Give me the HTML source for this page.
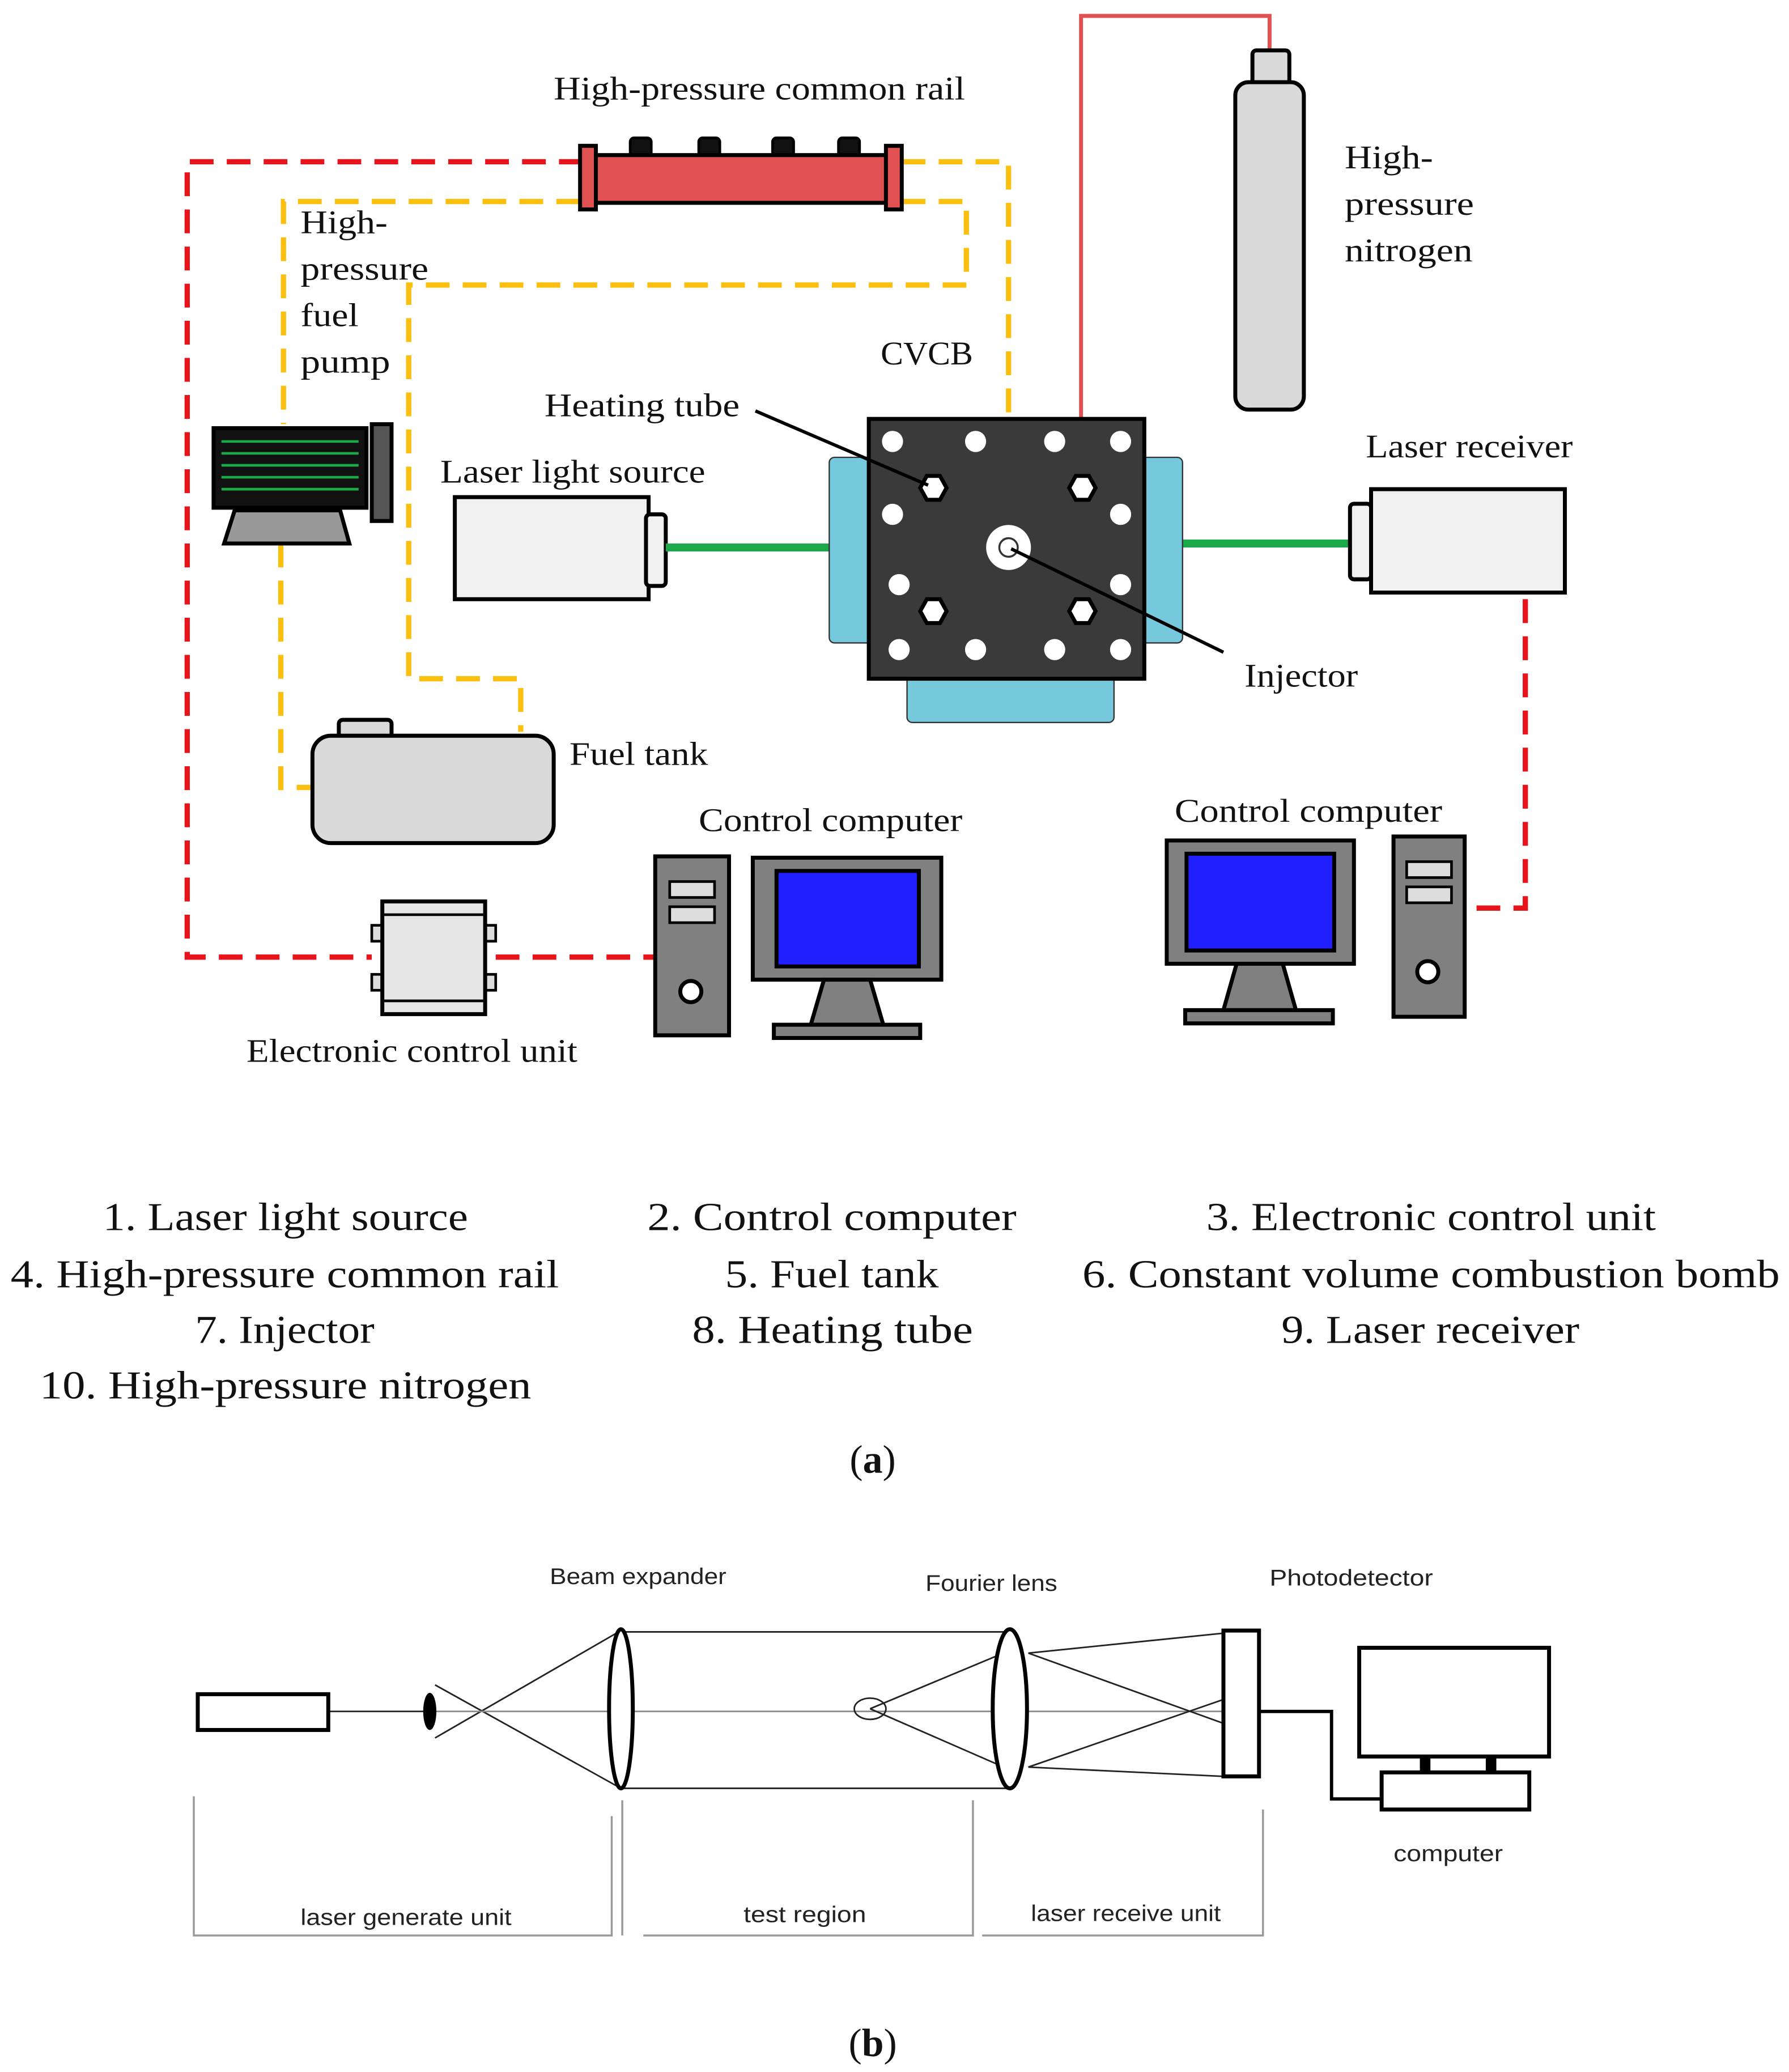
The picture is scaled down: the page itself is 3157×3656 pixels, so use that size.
<!DOCTYPE html>
<html><head><meta charset="utf-8"><style>
html,body{margin:0;padding:0;background:#fff}
svg{display:block}
.s{font-family:"Liberation Serif",serif;fill:#111}
.ss{font-family:"Liberation Sans",sans-serif;fill:#222}
</style></head><body>
<svg width="3157" height="3656" viewBox="0 0 1357 1563" preserveAspectRatio="none" xmlns="http://www.w3.org/2000/svg">
<rect width="1357" height="1563" fill="#fff"/>
<g fill="none" stroke="#e8141b" stroke-width="4" stroke-dasharray="18,10">
<polyline points="442,122 142,122 142,722 282,722"/>
<polyline points="376,722 496,722"/>
<polyline points="1157,452 1157,685 1112,685"/>
</g>
<g fill="none" stroke="#fbbf0f" stroke-width="4" stroke-dasharray="18,10">
<polyline points="684,122 765,122 765,405"/>
<polyline points="684,152 733,152 733,215 310,215 310,512 395,512 395,552"/>
<polyline points="440,152 215,152 215,320"/>
<polyline points="213,410 213,594 237,594"/>
</g>
<polyline points="820,316 820,12 963,12 963,40" fill="none" stroke="#e05252" stroke-width="3"/>
<g stroke="#000" stroke-width="2">
<rect x="478" y="104" width="16" height="14" rx="3" fill="#111"/>
<rect x="530" y="104" width="16" height="14" rx="3" fill="#111"/>
<rect x="586" y="104" width="16" height="14" rx="3" fill="#111"/>
<rect x="636" y="104" width="16" height="14" rx="3" fill="#111"/>
<rect x="447" y="117" width="228" height="36" fill="#e05252" stroke-width="3"/>
<rect x="440" y="110" width="12" height="48" fill="#e05252" stroke-width="3"/>
<rect x="672" y="110" width="12" height="48" fill="#e05252" stroke-width="3"/>
</g>
<g class="s" font-size="25" lengthAdjust="spacingAndGlyphs">
<text x="420" y="75" textLength="312" lengthAdjust="spacingAndGlyphs">High-pressure common rail</text>
<text x="1020" y="127" textLength="67" lengthAdjust="spacingAndGlyphs">High-</text>
<text x="1020" y="162" textLength="98" lengthAdjust="spacingAndGlyphs">pressure</text>
<text x="1020" y="197" textLength="97" lengthAdjust="spacingAndGlyphs">nitrogen</text>
<text x="228" y="176" textLength="66" lengthAdjust="spacingAndGlyphs">High-</text>
<text x="228" y="211" textLength="97" lengthAdjust="spacingAndGlyphs">pressure</text>
<text x="228" y="246" textLength="44" lengthAdjust="spacingAndGlyphs">fuel</text>
<text x="228" y="281" textLength="68" lengthAdjust="spacingAndGlyphs">pump</text>
<text x="334" y="364" textLength="201" lengthAdjust="spacingAndGlyphs">Laser light source</text>
<text x="668" y="275" textLength="70" lengthAdjust="spacingAndGlyphs">CVCB</text>
<text x="413" y="314" textLength="148" lengthAdjust="spacingAndGlyphs">Heating tube</text>
<text x="944" y="518" textLength="86" lengthAdjust="spacingAndGlyphs">Injector</text>
<text x="1036" y="345" textLength="157" lengthAdjust="spacingAndGlyphs">Laser receiver</text>
<text x="432" y="577" textLength="105" lengthAdjust="spacingAndGlyphs">Fuel tank</text>
<text x="187" y="801" textLength="251" lengthAdjust="spacingAndGlyphs">Electronic control unit</text>
<text x="530" y="627" textLength="200" lengthAdjust="spacingAndGlyphs">Control computer</text>
<text x="891" y="620" textLength="203" lengthAdjust="spacingAndGlyphs">Control computer</text>
</g>
<rect x="950" y="38" width="28" height="28" rx="3" fill="#d9d9d9" stroke="#000" stroke-width="3"/>
<rect x="937" y="62" width="52" height="247" rx="10" fill="#d9d9d9" stroke="#000" stroke-width="3"/>
<rect x="162" y="323" width="116" height="60" fill="#111" stroke="#000" stroke-width="3"/>
<g stroke="#1aa848" stroke-width="2">
<line x1="168" y1="333" x2="272" y2="333"/><line x1="168" y1="342" x2="272" y2="342"/>
<line x1="168" y1="351" x2="272" y2="351"/><line x1="168" y1="360" x2="272" y2="360"/>
<line x1="168" y1="369" x2="272" y2="369"/>
</g>
<rect x="282" y="320" width="15" height="73" fill="#555" stroke="#000" stroke-width="3"/>
<polygon points="178,385 258,385 265,410 170,410" fill="#999" stroke="#000" stroke-width="3"/>
<rect x="345" y="375" width="147" height="77" fill="#f0f0f0" stroke="#000" stroke-width="3"/>
<rect x="490" y="388" width="15" height="54" rx="3" fill="#f0f0f0" stroke="#000" stroke-width="3"/>
<line x1="505" y1="413" x2="630" y2="413" stroke="#1aa848" stroke-width="6"/>
<line x1="897" y1="410" x2="1025" y2="410" stroke="#1aa848" stroke-width="6"/>
<rect x="629" y="345" width="34" height="140" rx="4" fill="#76c9dc" stroke="#333" stroke-width="1"/>
<rect x="863" y="345" width="34" height="140" rx="4" fill="#76c9dc" stroke="#333" stroke-width="1"/>
<rect x="688" y="508" width="157" height="37" rx="4" fill="#76c9dc" stroke="#333" stroke-width="1"/>
<rect x="659" y="316" width="209" height="196" fill="#3a3a3a" stroke="#000" stroke-width="3"/>
<g fill="#fff">
<circle cx="677" cy="333" r="8"/><circle cx="740" cy="333" r="8"/><circle cx="800" cy="333" r="8"/><circle cx="850" cy="333" r="8"/>
<circle cx="677" cy="388" r="8"/><circle cx="850" cy="388" r="8"/>
<circle cx="682" cy="441" r="8"/><circle cx="850" cy="441" r="8"/>
<circle cx="682" cy="490" r="8"/><circle cx="740" cy="490" r="8"/><circle cx="800" cy="490" r="8"/><circle cx="850" cy="490" r="8"/>
<circle cx="765" cy="413" r="17"/>
</g>
<circle cx="765" cy="413" r="7" fill="#fff" stroke="#333" stroke-width="1.5"/>
<g fill="#fff" stroke="#000" stroke-width="3">
<polygon points="698,368 703,359 713,359 718,368 713,377 703,377"/>
<polygon points="811,368 816,359 826,359 831,368 826,377 816,377"/>
<polygon points="698,461 703,452 713,452 718,461 713,470 703,470"/>
<polygon points="811,461 816,452 826,452 831,461 826,470 816,470"/>
</g>
<line x1="573" y1="310" x2="704" y2="366" stroke="#000" stroke-width="2.5"/>
<line x1="767" y1="414" x2="928" y2="492" stroke="#000" stroke-width="2.5"/>
<rect x="1024" y="380" width="16" height="57" rx="3" fill="#f0f0f0" stroke="#000" stroke-width="3"/>
<rect x="1040" y="369" width="147" height="78" fill="#f0f0f0" stroke="#000" stroke-width="3"/>
<rect x="257" y="543" width="40" height="16" rx="3" fill="#d9d9d9" stroke="#000" stroke-width="3"/>
<rect x="237" y="555" width="183" height="81" rx="14" fill="#d9d9d9" stroke="#000" stroke-width="3"/>
<rect x="282" y="698" width="8" height="12" fill="#ddd" stroke="#000" stroke-width="2"/>
<rect x="282" y="735" width="8" height="12" fill="#ddd" stroke="#000" stroke-width="2"/>
<rect x="368" y="698" width="8" height="12" fill="#ddd" stroke="#000" stroke-width="2"/>
<rect x="368" y="735" width="8" height="12" fill="#ddd" stroke="#000" stroke-width="2"/>
<rect x="290" y="680" width="78" height="85" fill="#e6e6e6" stroke="#000" stroke-width="3"/>
<line x1="290" y1="690" x2="368" y2="690" stroke="#000" stroke-width="2"/>
<line x1="290" y1="755" x2="368" y2="755" stroke="#000" stroke-width="2"/>
<rect x="497" y="646" width="56" height="135" fill="#808080" stroke="#000" stroke-width="3"/>
<rect x="508" y="665" width="34" height="12" fill="#ddd" stroke="#000" stroke-width="2"/>
<rect x="508" y="684" width="34" height="12" fill="#ddd" stroke="#000" stroke-width="2"/>
<circle cx="524" cy="748" r="8" fill="#fff" stroke="#000" stroke-width="3"/>
<rect x="571" y="647" width="143" height="92" fill="#808080" stroke="#000" stroke-width="3"/>
<rect x="589" y="657" width="108" height="72" fill="#1f1fff" stroke="#000" stroke-width="3"/>
<polygon points="625,739 660,739 670,773 615,773" fill="#808080" stroke="#000" stroke-width="3"/>
<rect x="587" y="773" width="111" height="10" fill="#808080" stroke="#000" stroke-width="3"/>
<rect x="1057" y="631" width="54" height="136" fill="#808080" stroke="#000" stroke-width="3"/>
<rect x="1067" y="650" width="34" height="12" fill="#ddd" stroke="#000" stroke-width="2"/>
<rect x="1067" y="669" width="34" height="12" fill="#ddd" stroke="#000" stroke-width="2"/>
<circle cx="1083" cy="733" r="8" fill="#fff" stroke="#000" stroke-width="3"/>
<rect x="885" y="634" width="142" height="93" fill="#808080" stroke="#000" stroke-width="3"/>
<rect x="900" y="644" width="112" height="73" fill="#1f1fff" stroke="#000" stroke-width="3"/>
<polygon points="938,727 973,727 983,762 928,762" fill="#808080" stroke="#000" stroke-width="3"/>
<rect x="899" y="762" width="112" height="10" fill="#808080" stroke="#000" stroke-width="3"/>
<g class="s" font-size="30">
<text x="78" y="928" textLength="277" lengthAdjust="spacingAndGlyphs">1. Laser light source</text>
<text x="8" y="971" textLength="416" lengthAdjust="spacingAndGlyphs">4. High-pressure common rail</text>
<text x="148" y="1013" textLength="136" lengthAdjust="spacingAndGlyphs">7. Injector</text>
<text x="30" y="1055" textLength="373" lengthAdjust="spacingAndGlyphs">10. High-pressure nitrogen</text>
<text x="491" y="928" textLength="280" lengthAdjust="spacingAndGlyphs">2. Control computer</text>
<text x="550" y="971" textLength="162" lengthAdjust="spacingAndGlyphs">5. Fuel tank</text>
<text x="525" y="1013" textLength="213" lengthAdjust="spacingAndGlyphs">8. Heating tube</text>
<text x="915" y="928" textLength="341" lengthAdjust="spacingAndGlyphs">3. Electronic control unit</text>
<text x="821" y="971" textLength="529" lengthAdjust="spacingAndGlyphs">6. Constant volume combustion bomb</text>
<text x="972" y="1013" textLength="226" lengthAdjust="spacingAndGlyphs">9. Laser receiver</text>
<text x="662" y="1111" text-anchor="middle">(<tspan font-weight="bold">a</tspan>)</text>
<text x="662" y="1551" text-anchor="middle">(<tspan font-weight="bold">b</tspan>)</text>
</g>
<g fill="none" stroke="#222" stroke-width="1.2">
<line x1="249" y1="1291" x2="322" y2="1291"/>
<line x1="330" y1="1271" x2="471" y2="1349"/>
<line x1="330" y1="1311" x2="471" y2="1230"/>
<line x1="330" y1="1291" x2="928" y2="1291" stroke="#888"/>
<line x1="471" y1="1231" x2="766" y2="1231"/>
<line x1="471" y1="1349" x2="766" y2="1349"/>
<line x1="766" y1="1245" x2="660" y2="1289"/>
<line x1="766" y1="1335" x2="660" y2="1289"/>
<ellipse cx="660" cy="1289" rx="12" ry="8"/>
<line x1="780" y1="1247" x2="928" y2="1232"/>
<line x1="780" y1="1333" x2="928" y2="1340"/>
<line x1="780" y1="1247" x2="928" y2="1300"/>
<line x1="780" y1="1333" x2="928" y2="1282"/>
</g>
<rect x="150" y="1278" width="99" height="27" fill="#fff" stroke="#000" stroke-width="3"/>
<ellipse cx="326" cy="1291" rx="5" ry="14" fill="#000"/>
<ellipse cx="471" cy="1289" rx="9" ry="60" fill="#fff" stroke="#000" stroke-width="3"/>
<ellipse cx="766" cy="1289" rx="13" ry="60" fill="#fff" stroke="#000" stroke-width="3"/>
<rect x="928" y="1230" width="27" height="110" fill="#fff" stroke="#000" stroke-width="3"/>
<polyline points="955,1291 1010,1291 1010,1357 1048,1357" fill="none" stroke="#000" stroke-width="2.5"/>
<rect x="1031" y="1243" width="144" height="82" fill="#fff" stroke="#000" stroke-width="3"/>
<rect x="1077" y="1325" width="8" height="12" fill="#000"/>
<rect x="1127" y="1325" width="8" height="12" fill="#000"/>
<rect x="1048" y="1337" width="112" height="28" fill="#fff" stroke="#000" stroke-width="3"/>
<g stroke="#999" stroke-width="1.5" fill="none">
<polyline points="147,1355 147,1460 464,1460 464,1370"/>
<line x1="472" y1="1358" x2="472" y2="1460"/>
<polyline points="488,1460 738,1460 738,1358"/>
<polyline points="745,1460 958,1460 958,1365"/>
</g>
<g class="ss" font-size="17">
<text x="417" y="1195" textLength="134" lengthAdjust="spacingAndGlyphs">Beam expander</text>
<text x="702" y="1200" textLength="100" lengthAdjust="spacingAndGlyphs">Fourier lens</text>
<text x="963" y="1196" textLength="124" lengthAdjust="spacingAndGlyphs">Photodetector</text>
<text x="1057" y="1404" textLength="83" lengthAdjust="spacingAndGlyphs">computer</text>
<text x="228" y="1452" textLength="160" lengthAdjust="spacingAndGlyphs">laser generate unit</text>
<text x="564" y="1450" textLength="93" lengthAdjust="spacingAndGlyphs">test region</text>
<text x="782" y="1449" textLength="144" lengthAdjust="spacingAndGlyphs">laser receive unit</text>
</g>
</svg>
</body></html>
